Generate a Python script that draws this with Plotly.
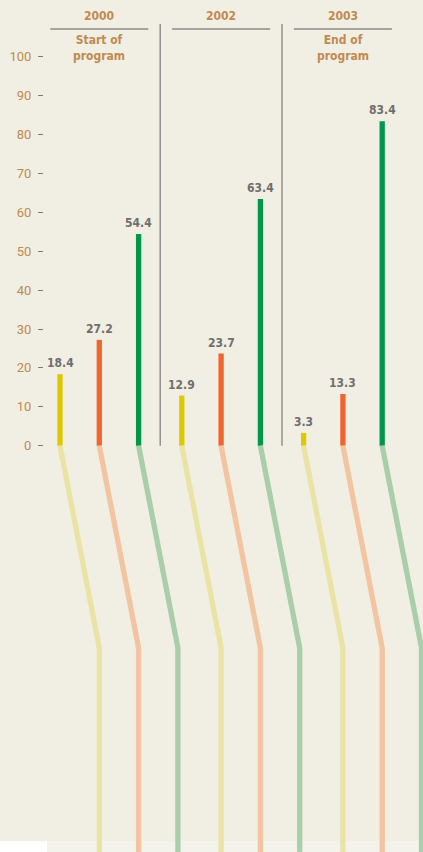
import plotly.graph_objects as go

# Data
years = ["2000", "2002", "2003"]
subtitles = ["Start of<br>program", "", "End of<br>program"]
series_names = ["Yellow", "Orange", "Green"]
values = [
    [18.4, 27.2, 54.4],   # 2000
    [12.9, 23.7, 63.4],   # 2002
    [3.3, 13.3, 83.4],    # 2003
]
y_ticks = [0, 10, 20, 30, 40, 50, 60, 70, 80, 90, 100]

# Styling
BG = "#f1efe3"
TAN = "#c08a50"
GREY_TXT = "#6e6e6e"
RULE = "#8a8a8a"
bar_colors = ["#ddc900", "#f0652f", "#00974a"]
trail_colors = ["#e9e4a6", "#f2c4a1", "#a9cea9"]
FONT = "DejaVu Sans Condensed, Roboto, sans-serif"
TICK_FONT = "Roboto, sans-serif"

W, H = 423, 852
x0, bar_pitch, group_pitch = 60.0, 39.3, 121.8
px_per_unit = 3.89
zero_px = 445.7
y_top = zero_px / px_per_unit
y_bottom = -(H - zero_px) / px_per_unit
bend_y = -(648 - zero_px) / px_per_unit


def bar_x(g, i):
    return x0 + g * group_pitch + i * bar_pitch


fig = go.Figure()

# Trailing connectors below the baseline
for g in range(len(years)):
    for i in range(len(series_names)):
        xs = bar_x(g, i)
        fig.add_trace(go.Scatter(
            x=[xs, xs + bar_pitch, xs + bar_pitch],
            y=[0, bend_y, y_bottom - 5],
            mode="lines",
            line=dict(color=trail_colors[i], width=5.3),
            hoverinfo="skip", showlegend=False,
        ))

# Bars
for i, name in enumerate(series_names):
    fig.add_trace(go.Bar(
        x=[bar_x(g, i) for g in range(len(years))],
        y=[values[g][i] for g in range(len(years))],
        width=5.3,
        marker=dict(color=bar_colors[i], line=dict(width=0)),
        name=name, showlegend=False,
    ))

shapes = []
annotations = []

# Group separators and headers
for g, yr in enumerate(years):
    cx = bar_x(g, 1)
    shapes.append(dict(type="line", xref="x", yref="paper",
                       x0=cx - 49, x1=cx + 49, y0=1 - 29 / H, y1=1 - 29 / H,
                       line=dict(color=RULE, width=1.5)))
    annotations.append(dict(x=cx, y=1 - 16 / H, xref="x", yref="paper",
                            xanchor="center", yanchor="middle",
                            text="<b>%s</b>" % yr, showarrow=False,
                            font=dict(family=FONT, size=12, color=TAN)))
    if subtitles[g]:
        annotations.append(dict(x=cx, y=1 - 48 / H, xref="x", yref="paper",
                                xanchor="center", yanchor="middle",
                                text="<b>%s</b>" % subtitles[g], showarrow=False,
                                font=dict(family=FONT, size=12, color=TAN)))
    if g > 0:
        sx = (bar_x(g - 1, 2) + bar_x(g, 0)) / 2
        shapes.append(dict(type="line", xref="x", yref="y",
                           x0=sx, x1=sx, y0=0, y1=(zero_px - 24) / px_per_unit,
                           line=dict(color=RULE, width=1.4)))
    # Value labels
    for i in range(len(series_names)):
        v = values[g][i]
        annotations.append(dict(x=bar_x(g, i), y=v, xref="x", yref="y",
                                xanchor="center", yanchor="bottom", yshift=2,
                                text="<b>%.1f</b>" % v, showarrow=False,
                                font=dict(family=FONT, size=12, color=GREY_TXT)))

# Bottom strip
shapes.append(dict(type="rect", xref="paper", yref="paper", layer="below",
                   x0=47 / W, x1=1, y0=0, y1=11 / H,
                   fillcolor="#f4f3eb", line=dict(width=0)))
shapes.append(dict(type="rect", xref="paper", yref="paper", layer="below",
                   x0=0, x1=47 / W, y0=0, y1=11 / H,
                   fillcolor="#ffffff", line=dict(width=0)))

fig.update_layout(
    width=W, height=H,
    margin=dict(l=0, r=0, t=0, b=0),
    paper_bgcolor=BG, plot_bgcolor="rgba(0,0,0,0)",
    barmode="overlay",
    xaxis=dict(range=[0, W], visible=False, fixedrange=True),
    yaxis=dict(range=[y_bottom, y_top], anchor="free", position=43 / W,
               tickvals=y_ticks, ticks="outside", ticklen=5, tickwidth=1.3,
               tickcolor="#7a7a7a", showgrid=False, zeroline=False,
               showline=False, ticklabelstandoff=4,
               tickfont=dict(family=TICK_FONT, size=13, color=TAN)),
    shapes=shapes,
    annotations=annotations,
)

fig.write_html("out.html")
